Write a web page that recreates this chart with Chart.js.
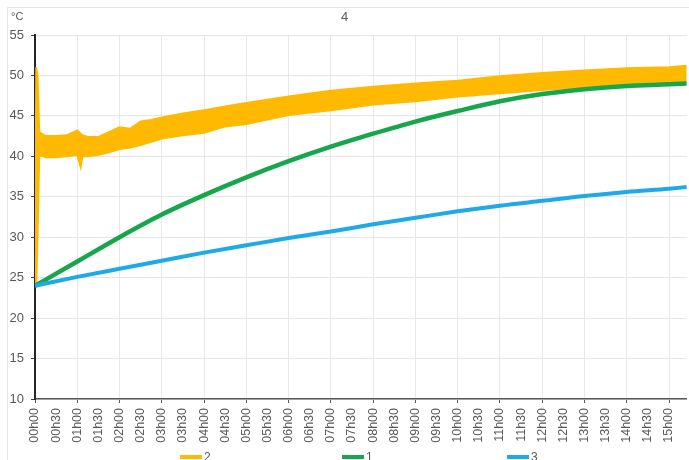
<!DOCTYPE html>
<html>
<head>
<meta charset="utf-8">
<script src="https://cdn.jsdelivr.net/npm/chart.js@4.4.1/dist/chart.umd.min.js"></script>
<style>
  html, body { margin: 0; padding: 0; background: #fff; }
  #wrap { position: relative; width: 689px; height: 460px; overflow: hidden; }
  #frame { position: absolute; left: 7px; top: 7px; width: 700px; height: 470px; border: 1px solid #e6e6e6; }
  canvas { position: absolute; left: 0; top: 0; }
  .leg { position: absolute; top: 450px; height: 14px; font: 12px "Liberation Sans", sans-serif; color: #595959; display: flex; align-items: center; }
  .leg .bar { display: inline-block; width: 22px; height: 4px; margin-right: 2px; }
</style>
</head>
<body>
<div id="wrap">
  <div id="frame"></div>
  <canvas id="myChart" width="689" height="460"></canvas>
</div>
<script>
// tick labels, every half hour
const tickLabels = ['00h00', '00h30', '01h00', '01h30', '02h00', '02h30', '03h00', '03h30',
    '04h00', '04h30', '05h00', '05h30', '06h00', '06h30', '07h00', '07h30', '08h00', '08h30',
    '09h00', '09h30', '10h00', '10h30', '11h00', '11h30', '12h00', '12h30', '13h00', '13h30',
    '14h00', '14h30', '15h00'];

// time in hours
const hours = [0, 1, 2, 3, 4, 5, 6, 7, 8, 9, 10, 11, 12, 13, 14, 15, 15.42];
const serie1 = [24.0, 27.0, 30.0, 32.8, 35.2, 37.4, 39.4, 41.2, 42.8, 44.3, 45.6, 46.8, 47.7, 48.3, 48.7, 48.9, 49.0];
const serie3 = [24.0, 25.1, 26.1, 27.1, 28.1, 29.0, 29.9, 30.7, 31.6, 32.4, 33.2, 33.9, 34.5, 35.1, 35.6, 36.0, 36.2];

// serie 2 is a noisy band: upper and lower edge
const hours2 = [0, 0.03, 0.06, 0.1, 0.25, 0.5, 0.75, 1.0, 1.08, 1.12, 1.25, 1.5, 1.75, 2.0, 2.25, 2.5, 2.75,
    3.0, 3.5, 4.0, 4.5, 5.0, 6, 7, 8, 9, 10, 11, 12, 13, 14, 15, 15.42];
const serie2Haut = [24, 51, 50, 43, 42.5, 42.5, 42.6, 43.2, 42.8, 42.6, 42.4, 42.4, 43.0, 43.6, 43.4, 44.3, 44.5,
    44.8, 45.3, 45.7, 46.15, 46.6, 47.4, 48.1, 48.6, 49.0, 49.35, 49.9, 50.3, 50.6, 50.9, 51.0, 51.2];
const serie2Bas = [24, 24, 30, 40.2, 39.9, 39.9, 40.0, 40.2, 38.7, 40.0, 40.0, 40.2, 40.5, 40.9, 41.1, 41.4, 41.8,
    42.2, 42.6, 42.9, 43.7, 44.0, 45.1, 45.7, 46.4, 46.8, 47.4, 47.8, 48.2, 48.6, 48.8, 49.0, 49.1];

const yTicks = { min: 10, max: 55, step: 5 };

const ORANGE = '#FFB900';
const VERT = '#16A64B';
const BLEU = '#1EAAE8';

function pts(xs, ys) {
    return xs.map((x, i) => ({ x: x, y: ys[i] }));
}

const isHour = (c) => c.tick && Math.abs(c.tick.value % 1) < 1e-6;

// °C en haut a gauche
const unitPlugin = {
    id: 'unit',
    afterDraw(chart) {
        const ctx = chart.ctx;
        ctx.save();
        ctx.font = '11px "Liberation Sans", sans-serif';
        ctx.fillStyle = '#595959';
        ctx.textBaseline = 'alphabetic';
        ctx.fillText('°C', 11, 20);
        ctx.restore();
    }
};

const ctx = document.getElementById('myChart').getContext('2d');
const myChart = new Chart(ctx, {
    type: 'line',
    data: {
        datasets: [
            {
                label: '2',
                data: pts(hours2, serie2Haut),
                borderColor: ORANGE,
                backgroundColor: ORANGE,
                borderWidth: 2,
                fill: '+1',
                tension: 0,
                pointRadius: 0,
                order: 3
            },
            {
                label: '2b',
                data: pts(hours2, serie2Bas),
                borderColor: ORANGE,
                backgroundColor: ORANGE,
                borderWidth: 2,
                fill: false,
                tension: 0,
                pointRadius: 0,
                order: 4
            },
            {
                label: '1',
                data: pts(hours, serie1),
                borderColor: VERT,
                backgroundColor: VERT,
                borderWidth: 4.5,
                cubicInterpolationMode: 'monotone',
                pointRadius: 0,
                order: 1
            },
            {
                label: '3',
                data: pts(hours, serie3),
                borderColor: BLEU,
                backgroundColor: BLEU,
                borderWidth: 4,
                cubicInterpolationMode: 'monotone',
                pointRadius: 0,
                order: 0
            }
        ]
    },
    options: {
        responsive: false,
        animation: false,
        devicePixelRatio: 1,
        layout: { padding: { left: 0, right: 0, top: 0, bottom: 15 } },
        plugins: {
            legend: { display: false },
            tooltip: { enabled: false },
            title: {
                display: true,
                text: '4',
                color: '#595959',
                font: { size: 13, weight: 'normal', family: '"Liberation Sans", sans-serif' },
                padding: { top: 10, bottom: 9.4 }
            }
        },
        scales: {
            x: {
                type: 'linear',
                min: 0,
                max: 15.42,
                ticks: {
                    stepSize: 0.5,
                    includeBounds: false,
                    autoSkip: false,
                    maxRotation: 90,
                    minRotation: 90,
                    padding: 5,
                    color: '#595959',
                    font: { size: 12.5, family: '"Liberation Sans", sans-serif' },
                    callback: (v) => tickLabels[Math.round(v * 2)]
                },
                grid: {
                    color: (c) => isHour(c) ? '#e8e8e8' : 'rgba(0,0,0,0)',
                    tickColor: (c) => isHour(c) ? '#595959' : 'rgba(0,0,0,0)',
                    tickLength: 4
                },
                border: { color: '#595959', width: 1.5 },
                afterFit: (s) => { s.height = 46; }
            },
            y: {
                min: yTicks.min,
                max: yTicks.max,
                ticks: {
                    stepSize: yTicks.step,
                    padding: 7,
                    color: '#595959',
                    font: { size: 13, family: '"Liberation Sans", sans-serif' }
                },
                grid: {
                    color: '#e6e6e6',
                    tickColor: '#404040',
                    tickLength: 4
                },
                border: { color: '#262626', width: 2 },
                afterFit: (s) => { s.width = 35; }
            }
        }
    },
    plugins: [unitPlugin]
});

// legende en html, dans l'ordre 2, 1, 3
const legendOrder = [0, 2, 3];
const legendLeft = [180, 342, 507];
const wrap = document.getElementById('wrap');
legendOrder.forEach(function (idx, i) {
    const ds = myChart.data.datasets[idx];
    const item = document.createElement('div');
    item.className = 'leg';
    item.style.left = legendLeft[i] + 'px';
    item.innerHTML = `<span class="bar" style="background:${ds.borderColor}"></span>${ds.label}`;
    wrap.appendChild(item);
});
</script>
</body>
</html>
